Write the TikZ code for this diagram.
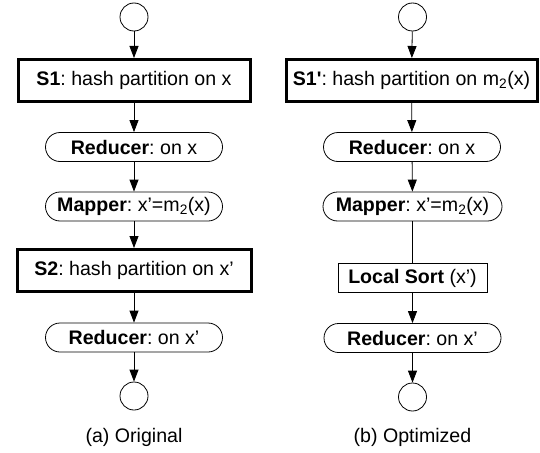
\documentclass[tikz,border=0pt]{standalone}
\usepackage{fontspec}
\setmainfont{Liberation Sans}
\usetikzlibrary{arrows.meta}
\frenchspacing
\begin{document}
\begin{tikzpicture}[x=1pt,y=-1pt,
  every node/.style={font=\fontsize{19.6}{23}\selectfont\frenchspacing, inner sep=0pt},
  term/.style={draw, circle, minimum size=28pt, line width=0.8pt},
  stage/.style={draw, rectangle, line width=3pt, minimum height=42pt},
  proc/.style={draw, rectangle, rounded corners=14.5pt, line width=0.8pt, minimum height=29pt},
  sortbox/.style={draw, rectangle, line width=0.8pt, minimum height=29pt},
  arr/.style={-{Triangle[width=9pt,length=12pt]}, line width=0.8pt},
  plain/.style={line width=0.8pt}]
\useasboundingbox (0,0) rectangle (540,452);
% left column
\node[term] (c1) at (134,17) {};
\node[stage, minimum width=232pt] (s1) at (134,80.5) {\textbf{S1}: hash partition on x};
\node[proc, minimum width=177pt] (r1) at (134,147) {\textbf{Reducer}: on x};
\node[proc, minimum width=177pt] (m1) at (134,206.5) {\textbf{Mapper}: x’=m\textsubscript{2}(x)};
\node[stage, minimum width=234pt] (s2) at (134,270.5) {\textbf{S2}: hash partition on x’};
\node[proc, minimum width=177pt] (r2) at (134,337.5) {\textbf{Reducer}: on x’};
\node[term] (c2) at (134,396) {};
\node (capa) at (134,437) {(a) Original};
\draw[arr] (c1) -- (s1);
\draw[arr] (s1) -- (r1);
\draw[arr] (r1) -- (m1);
\draw[arr] (m1) -- (s2);
\draw[arr] (s2) -- (r2);
\draw[arr] (r2) -- (c2);
% right column
\node[term] (c3) at (412.5,17) {};
\node[stage, minimum width=251pt] (s3) at (411.5,80.5) {\textbf{S1\textquotesingle}: hash partition on m\textsubscript{2}(x)};
\node[proc, minimum width=177pt] (r3) at (412,147) {\textbf{Reducer}: on x};
\node[proc, minimum width=179pt] (m3) at (412.5,206.5) {\textbf{Mapper}: x’=m\textsubscript{2}(x)};
\node[sortbox, minimum width=149pt] (ls) at (412.5,278) {\textbf{Local Sort} (x’)};
\node[proc, minimum width=177pt] (r4) at (412.5,338) {\textbf{Reducer}: on x’};
\node[term] (c4) at (412.5,397) {};
\node (capb) at (412.5,437) {(b) Optimized};
\draw[arr] (c3) -- (s3);
\draw[arr] (s3) -- (r3);
\draw[arr] (r3) -- (m3);
\draw[plain] (m3) -- (ls);
\draw[arr] (ls) -- (r4);
\draw[arr] (r4) -- (c4);
\end{tikzpicture}
\end{document}
